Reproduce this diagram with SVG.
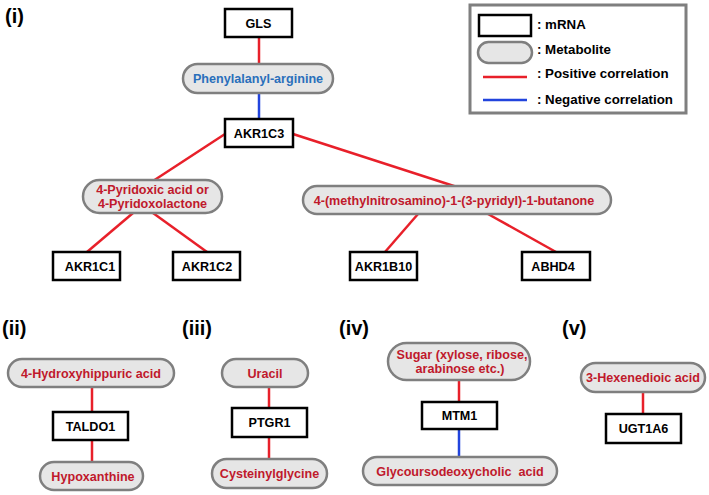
<svg xmlns="http://www.w3.org/2000/svg" width="709" height="495" viewBox="0 0 709 495">
<style>
.box{fill:#fff;stroke:#000;stroke-width:2.5}
.pill{fill:#e6e6e6;stroke:#7f7f7f;stroke-width:2.5}
.t{font-family:"Liberation Sans",Arial,sans-serif;font-weight:bold;font-size:12.6px;text-anchor:middle;fill:#000}
.r{fill:#c0192c}
.b{fill:#2a6fbb}
.lbl{font-family:"Liberation Sans",Arial,sans-serif;font-weight:bold;font-size:20px;fill:#000}
.lg{font-family:"Liberation Sans",Arial,sans-serif;font-weight:bold;font-size:13.3px;fill:#000}
.pos{stroke:#e8202a;stroke-width:2.5;fill:none}
.neg{stroke:#2244dd;stroke-width:2.5;fill:none}
</style>
<rect width="709" height="495" fill="#fff"/>
<text class="lbl" x="5" y="23">(i)</text>
<text class="lbl" x="2" y="335">(ii)</text>
<text class="lbl" x="182" y="335">(iii)</text>
<text class="lbl" x="339" y="335">(iv)</text>
<text class="lbl" x="562" y="335">(v)</text>

<g id="legend">
<rect x="470" y="5" width="216" height="108" fill="#fff" stroke="#7f7f7f" stroke-width="3"/>
<rect class="box" x="479" y="15" width="52" height="21"/>
<rect class="pill" x="478" y="42" width="54" height="21" rx="10.5"/>
<line class="pos" x1="483" y1="77" x2="527" y2="77"/>
<line class="neg" x1="483" y1="100" x2="527" y2="100"/>
<text class="lg" x="537" y="29">: mRNA</text>
<text class="lg" x="537" y="54">: Metabolite</text>
<text class="lg" x="537" y="78">: Positive correlation</text>
<text class="lg" x="537" y="104">: Negative correlation</text>
</g>

<g id="connectors">
<line class="pos" x1="259" y1="37" x2="259" y2="64"/>
<line class="neg" x1="259" y1="93" x2="259" y2="119"/>
<line class="pos" x1="225" y1="134" x2="153" y2="181"/>
<line class="pos" x1="293" y1="134" x2="457" y2="187"/>
<line class="pos" x1="133" y1="213" x2="87" y2="252"/>
<line class="pos" x1="153" y1="213" x2="207" y2="252"/>
<line class="pos" x1="418" y1="214" x2="385" y2="252"/>
<line class="pos" x1="488" y1="214" x2="556" y2="252"/>
<line class="pos" x1="92" y1="387" x2="92" y2="412"/>
<line class="pos" x1="92" y1="440" x2="92" y2="462"/>
<line class="pos" x1="269" y1="387" x2="269" y2="408"/>
<line class="pos" x1="269" y1="437" x2="269" y2="459"/>
<line class="pos" x1="459" y1="380" x2="459" y2="402"/>
<line class="neg" x1="459" y1="429" x2="459" y2="457"/>
<line class="pos" x1="643" y1="392" x2="643" y2="414"/>
</g>

<g id="GLS"><rect class="box" x="225" y="9" width="67" height="28"/><text class="t" x="258.5" y="27.5">GLS</text></g>
<g id="Phenylalanyl-arginine"><rect class="pill" x="183" y="64" width="150" height="29" rx="14.5"/><text class="t b" x="258" y="83">Phenylalanyl-arginine</text></g>
<g id="AKR1C3"><rect class="box" x="225" y="119" width="68" height="28"/><text class="t" x="259" y="137.5">AKR1C3</text></g>
<g id="Pyridoxic"><rect class="pill" x="83" y="180" width="139" height="33" rx="16.5"/><text class="t r" x="152.5" y="194">4-Pyridoxic acid or</text><text class="t r" x="152.5" y="208">4-Pyridoxolactone</text></g>
<g id="NNK"><rect class="pill" x="303" y="186" width="308" height="28" rx="14"/><text class="t r" x="454" y="204.5">4-(methylnitrosamino)-1-(3-pyridyl)-1-butanone</text></g>
<g id="AKR1C1"><rect class="box" x="53" y="252" width="67" height="28"/><text class="t" x="90" y="270.5">AKR1C1</text></g>
<g id="AKR1C2"><rect class="box" x="173" y="252" width="67" height="28"/><text class="t" x="207" y="270.5">AKR1C2</text></g>
<g id="AKR1B10"><rect class="box" x="350" y="252" width="67" height="28"/><text class="t" x="383.5" y="270.5">AKR1B10</text></g>
<g id="ABHD4"><rect class="box" x="522" y="252" width="68" height="28"/><text class="t" x="553" y="270.5">ABHD4</text></g>

<g id="Hydroxyhippuric"><rect class="pill" x="8" y="359" width="166" height="28" rx="14"/><text class="t r" x="91" y="377.5">4-Hydroxyhippuric acid</text></g>
<g id="TALDO1"><rect class="box" x="53" y="412" width="75" height="28"/><text class="t" x="90.5" y="430.5">TALDO1</text></g>
<g id="Hypoxanthine"><rect class="pill" x="40" y="462" width="103" height="28" rx="14"/><text class="t r" x="93" y="480.5">Hypoxanthine</text></g>

<g id="Uracil"><rect class="pill" x="222" y="359" width="86" height="28" rx="14"/><text class="t r" x="265" y="377.5">Uracil</text></g>
<g id="PTGR1"><rect class="box" x="232" y="408" width="75" height="29"/><text class="t" x="269.5" y="426.5">PTGR1</text></g>
<g id="Cysteinylglycine"><rect class="pill" x="212" y="459" width="115" height="29" rx="14.5"/><text class="t r" x="269.5" y="478">Cysteinylglycine</text></g>

<g id="Sugar"><rect class="pill" x="388" y="343" width="142" height="37" rx="18.5"/><text class="t r" x="462" y="359">Sugar (xylose, ribose,</text><text class="t r" x="460" y="373">arabinose etc.)</text></g>
<g id="MTM1"><rect class="box" x="422" y="402" width="75" height="27"/><text class="t" x="459.5" y="420">MTM1</text></g>
<g id="Glycoursodeoxycholic"><rect class="pill" x="363" y="457" width="194" height="28" rx="14"/><text class="t r" x="460" y="475.5" xml:space="preserve">Glycoursodeoxycholic  acid</text></g>

<g id="Hexenedioic"><rect class="pill" x="581" y="363" width="124" height="29" rx="14.5"/><text class="t r" x="643" y="382">3-Hexenedioic acid</text></g>
<g id="UGT1A6"><rect class="box" x="606" y="414" width="75" height="29"/><text class="t" x="643.5" y="432.5">UGT1A6</text></g>
</svg>
